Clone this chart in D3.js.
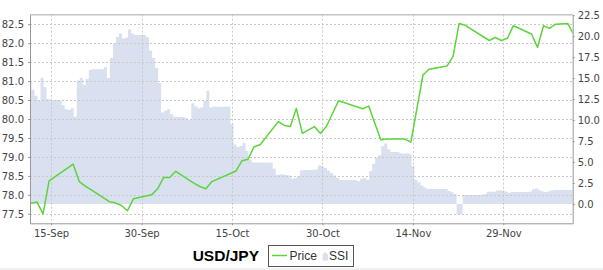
<!DOCTYPE html>
<html><head><meta charset="utf-8">
<script src="https://cdn.jsdelivr.net/npm/d3@7"></script>
<style>body{margin:0;background:#fff}svg{display:block}</style>
</head><body><svg id="c" width="603" height="270"></svg>
<script>
// ---------- data ----------
const priceDates = ["2012-09-11","2012-09-12","2012-09-13","2012-09-14","2012-09-18","2012-09-19","2012-09-20","2012-09-21",
"2012-09-24","2012-09-25","2012-09-26","2012-09-27","2012-09-28","2012-10-01","2012-10-02","2012-10-03","2012-10-04","2012-10-05",
"2012-10-08","2012-10-09","2012-10-10","2012-10-11","2012-10-15","2012-10-16","2012-10-17","2012-10-18","2012-10-19",
"2012-10-22","2012-10-23","2012-10-24","2012-10-25","2012-10-26","2012-10-28","2012-10-29","2012-10-30","2012-11-01",
"2012-11-05","2012-11-06","2012-11-08","2012-11-09","2012-11-12","2012-11-13","2012-11-15","2012-11-16","2012-11-19",
"2012-11-20","2012-11-21","2012-11-22","2012-11-26","2012-11-27","2012-11-28","2012-11-29","2012-11-30","2012-12-03",
"2012-12-04","2012-12-05","2012-12-06","2012-12-07","2012-12-09","2012-12-10"];
const priceValues = [77.78,77.81,77.50,78.37,78.81,78.35,78.23,78.13,
77.82,77.79,77.72,77.58,77.90,78.00,78.16,78.46,78.46,78.62,
78.31,78.22,78.16,78.35,78.63,78.90,78.94,79.27,79.32,
79.93,79.83,79.80,80.28,79.62,79.80,79.62,79.81,80.48,
80.27,80.34,79.45,79.47,79.47,79.39,81.16,81.31,81.40,
81.65,82.52,82.47,82.07,82.15,82.07,82.13,82.46,82.24,
81.89,82.46,82.39,82.50,82.52,82.23];

const ssiStart = "2012-09-11T12:00:00Z";
const ssiStepHours = 12;
const ssiValues = [
14.56,13.6,12.9,12.3,15.05,13.9,12.5,12.38,12.38,12.38,
12.3,11.8,11.3,11.2,11.4,10.4,14.7,15.0,14.2,14.9,
15.95,16.04,16.04,16.04,16.04,16.3,15.0,17.4,19.1,19.9,
20.3,19.7,19.8,20.8,20.3,20.12,20.12,20.12,20.12,19.9,
18.3,17.4,16.2,14.4,10.9,11.1,11.3,10.7,10.4,10.36,
10.36,10.36,10.2,10.0,12.0,11.6,11.4,11.5,12.3,13.5,
11.5,11.6,11.58,11.58,11.58,11.58,11.58,9.5,7.1,6.8,
6.9,7.3,6.3,5.3,4.95,4.94,4.94,4.94,4.94,4.94,
4.9,4.2,3.45,3.5,3.55,3.45,3.38,3.0,3.1,3.3,
4.0,4.05,4.05,4.05,4.05,4.1,4.6,4.5,4.3,4.0,
3.7,3.4,3.1,2.86,2.86,2.86,2.86,2.86,2.86,2.7,
3.0,3.1,2.86,3.9,4.8,5.5,5.8,6.9,7.2,6.5,
6.19,6.19,6.19,6.05,6.0,6.05,6.0,4.5,2.9,2.6,
2.2,1.95,1.8,1.79,1.79,1.79,1.79,1.79,1.8,1.55,
1.4,1.2,-1.2,-1.2,1.07,1.07,1.07,1.07,1.07,1.07,
1.1,1.2,1.46,1.46,1.46,1.6,1.65,1.58,1.45,1.35,
1.43,1.43,1.43,1.43,1.43,1.43,1.5,1.75,1.85,1.65,
1.5,1.43,1.5,1.62,1.67,1.67,1.67,1.67,1.67,1.67,1.67];

const xTickDates = ["2012-09-15","2012-09-30","2012-10-15","2012-10-30","2012-11-14","2012-11-29"];
const xTickLabels = ["15-Sep","30-Sep","15-Oct","30-Oct","14-Nov","29-Nov"];
const priceTicks = [77.5,78.0,78.5,79.0,79.5,80.0,80.5,81.0,81.5,82.0,82.5];
const ssiTicks = [0,2.5,5,7.5,10,12.5,15,17.5,20,22.5];
const chartTitle = "USD/JPY";
const legendLabels = ["Price","SSI"];

// ---------- layout ----------
const L = 30, R = 572.7, T = 14.7, B = 223.3;
const priceColor = "#5cd43a", ssiColor = "#d9e0ef";
const svg = d3.select("#c");

const utc = s => new Date(s.length === 10 ? s + "T00:00:00Z" : s);
const x = d3.scaleUtc().domain([utc("2012-09-11T12:00:00Z"), utc("2012-12-10T12:00:00Z")]).range([L, R]);
const yP = d3.scaleLinear().domain([77.25, 82.75]).range([B, T]);
const yS = d3.scaleLinear().domain([-2.3, 22.55]).range([B, T]);

const t0 = utc(ssiStart).getTime();
const ssi = ssiValues.map((v, i) => ({ t: new Date(t0 + i * ssiStepHours * 3600e3), v }));
const price = priceDates.map((d, i) => ({ t: new Date(utc(d).getTime() + 16 * 3600e3), v: priceValues[i] }));

svg.append("defs").append("clipPath").attr("id", "clip")
  .append("rect").attr("x", L).attr("y", T).attr("width", R - L).attr("height", B - T);

// area
svg.append("path").datum(ssi)
  .attr("clip-path", "url(#clip)")
  .attr("fill", ssiColor)
  .attr("d", d3.area().curve(d3.curveStep).x(d => x(d.t)).y0(yS(0)).y1(d => yS(d.v)));

// grid
const grid = svg.append("g").attr("stroke", "#c8c8c8").attr("stroke-dasharray", "2,2").attr("stroke-width", 1);
grid.selectAll("line.h").data(priceTicks).join("line")
  .attr("x1", L).attr("x2", R).attr("y1", d => Math.round(yP(d)) + 0.5).attr("y2", d => Math.round(yP(d)) + 0.5);
grid.selectAll("line.v").data(xTickDates).join("line")
  .attr("y1", T).attr("y2", B).attr("x1", d => Math.round(x(utc(d))) + 0.5).attr("x2", d => Math.round(x(utc(d))) + 0.5);

// frame top border
svg.append("line").attr("x1", L).attr("x2", R).attr("y1", T).attr("y2", T).attr("stroke", "#c4c4c4").attr("stroke-width", 1.5);

// axes
const fontTick = "DejaVu Sans, sans-serif";
function styleAxis(g) {
  g.selectAll(".domain").attr("stroke", "#999");
  g.selectAll(".tick line").attr("stroke", "#999");
  g.selectAll(".tick text").attr("fill", "#444").style("font-family", fontTick).style("font-size", "10px");
}
svg.append("g").attr("transform", `translate(${L},0)`)
  .call(d3.axisLeft(yP).tickValues(priceTicks).tickFormat(d3.format(".1f")).tickSize(2).tickSizeOuter(0).tickPadding(4))
  .call(styleAxis);
svg.append("g").attr("transform", `translate(${R},0)`)
  .call(d3.axisRight(yS).tickValues(ssiTicks).tickFormat(d3.format(".1f")).tickSize(2).tickSizeOuter(0).tickPadding(3))
  .call(styleAxis);
svg.append("g").attr("transform", `translate(0,${B})`)
  .call(d3.axisBottom(x).tickValues(xTickDates.map(utc)).tickFormat((d, i) => xTickLabels[i]).tickSize(2).tickSizeOuter(0).tickPadding(5))
  .call(styleAxis);

// price line
svg.append("path").datum(price)
  .attr("clip-path", "url(#clip)")
  .attr("fill", "none").attr("stroke", priceColor).attr("stroke-width", 1.5).attr("stroke-linejoin", "round")
  .attr("d", d3.line().x(d => x(d.t)).y(d => yP(d.v)));

// title
svg.append("text").attr("x", 259).attr("y", 261).attr("text-anchor", "end")
  .style("font-family", "Liberation Sans, Arial, sans-serif").style("font-weight", "bold").style("font-size", "15.5px")
  .attr("fill", "#000").text(chartTitle);

// legend
const lg = svg.append("g");
lg.append("rect").attr("x", 268.5).attr("y", 245.5).attr("width", 85).attr("height", 21)
  .attr("fill", "#fff").attr("stroke", "#555").attr("stroke-width", 1);
lg.append("line").attr("x1", 272).attr("x2", 287).attr("y1", 255.5).attr("y2", 255.5).attr("stroke", priceColor).attr("stroke-width", 1.5);
lg.append("text").attr("x", 289.5).attr("y", 260).style("font-family", "Liberation Sans, Arial, sans-serif").style("font-size", "12px")
  .attr("fill", "#333").text(legendLabels[0]);
lg.append("path").attr("d", "M322.5,260.5 L322.5,255 Q325,249.5 328,255 L328,260.5 Z").attr("fill", ssiColor);
lg.append("text").attr("x", 329).attr("y", 260).style("font-family", "Liberation Sans, Arial, sans-serif").style("font-size", "12px")
  .attr("fill", "#333").text(legendLabels[1]);

// bottom strip
svg.append("rect").attr("x", 0).attr("y", 268).attr("width", 603).attr("height", 2).attr("fill", "#f0f0f0");
</script></body></html>
